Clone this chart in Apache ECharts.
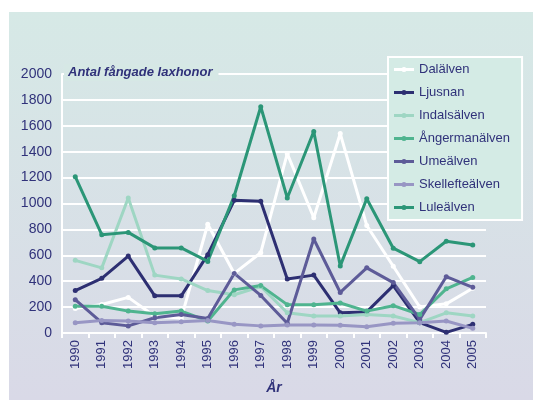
<!doctype html>
<html>
 <head>
  <meta charset="UTF-8">
  <script src="https://cdn.jsdelivr.net/npm/echarts@6/dist/echarts.min.js"></script>
  <title>Antal fångade laxhonor</title>
  <style>
   body { margin: 0; background: #fff; }
   #chart { width: 533px; height: 400px; }
  </style>
 </head>
 <body>
  <div id="chart"></div>
  <script type="text/javascript">
    var years = ['1990','1991','1992','1993','1994','1995','1996','1997','1998','1999','2000','2001','2002','2003','2004','2005'];
    var dalalven       = [190, 220, 275, 130, 115, 840, 460, 620, 1385, 890, 1540, 830, 515, 200, 225, 345];
    var ljusnan        = [328, 422, 594, 287, 287, 605, 1025, 1017, 417, 447, 156, 163, 366, 80, 5, 67];
    var indalsalven    = [561, 503, 1043, 447, 417, 328, 295, 359, 156, 131, 131, 143, 131, 80, 156, 131];
    var angermanalven  = [207, 207, 169, 148, 169, 93, 333, 366, 219, 219, 232, 169, 211, 143, 341, 429];
    var umealven       = [257, 80, 55, 118, 143, 112, 460, 290, 75, 726, 313, 503, 389, 105, 435, 353];
    var skelleftealven = [80, 97, 93, 80, 87, 97, 67, 55, 62, 62, 60, 49, 75, 80, 93, 36];
    var lulealven      = [1207, 759, 777, 657, 657, 553, 1060, 1747, 1043, 1556, 518, 1037, 655, 551, 708, 680];

    var textColor = '#30327a';
    var font = 'Liberation Sans, Arial, sans-serif';

    function line(name, data, color) {
      return {
        name: name,
        type: 'line',
        data: data,
        symbol: 'circle',
        symbolSize: 5,
        showSymbol: true,
        lineStyle: { color: color, width: 3 },
        itemStyle: { color: color },
        emphasis: { disabled: true }
      };
    }

    var myChart = echarts.init(document.getElementById('chart'));
    myChart.setOption({
      animation: false,
      textStyle: { fontFamily: font },
      graphic: [{
        type: 'rect',
        z: -10,
        silent: true,
        shape: { x: 9, y: 12, width: 524, height: 388 },
        style: {
          fill: {
            type: 'linear', x: 0, y: 0, x2: 0, y2: 1,
            colorStops: [{ offset: 0, color: '#d6e9e6' }, { offset: 1, color: '#d9d9e7' }]
          }
        }
      }],
      title: {
        text: 'Antal fångade laxhonor',
        left: 64,
        top: 64,
        padding: [2, 6, 2, 4],
        backgroundColor: '#d6e8e5',
        textStyle: { color: textColor, fontSize: 13, fontWeight: 'bold', fontStyle: 'italic', fontFamily: font }
      },
      legend: {
        orient: 'vertical',
        left: 388,
        top: 57,
        width: 135,
        padding: [6, 12, 6, 6],
        itemGap: 10,
        itemWidth: 20,
        itemHeight: 12,
        itemStyle: { borderWidth: 0 },
        icon: 'path://M0,4.5 L20,4.5 L20,7.5 L0,7.5 Z M7.5,6 A2.5,2.5 0 1 1 12.5,6 A2.5,2.5 0 1 1 7.5,6 Z',
        backgroundColor: '#d4ebe5',
        borderColor: '#ffffff',
        borderWidth: 2,
        borderRadius: 0,
        textStyle: { color: textColor, fontSize: 13, fontFamily: font },
        data: ['Dalälven', 'Ljusnan', 'Indalsälven', 'Ångermanälven', 'Umeälven', 'Skellefteälven', 'Luleälven']
      },
      grid: { left: 62, right: 47, top: 74, bottom: 65 },
      xAxis: {
        type: 'category',
        data: years,
        boundaryGap: true,
        name: 'År',
        nameLocation: 'middle',
        nameGap: 48,
        nameTextStyle: { color: textColor, fontSize: 14, fontWeight: 'bold', fontStyle: 'italic', fontFamily: font },
        axisLine: { lineStyle: { color: '#ffffff', width: 2 } },
        axisTick: { show: true, alignWithLabel: false, length: 5, lineStyle: { color: '#ffffff', width: 2 } },
        axisLabel: { rotate: 90, color: textColor, fontSize: 13, margin: 7, interval: 0, fontFamily: font },
        splitLine: { show: false }
      },
      yAxis: {
        type: 'value',
        min: 0,
        max: 2000,
        interval: 200,
        axisLine: { show: true, lineStyle: { color: '#ffffff', width: 2 } },
        axisTick: { show: false },
        axisLabel: { color: textColor, fontSize: 14, margin: 10, fontFamily: font, formatter: function (v) { return String(v); } },
        splitLine: { lineStyle: { color: '#ffffff', width: 2 } }
      },
      series: [
        line('Dalälven', dalalven, '#ffffff'),
        line('Ljusnan', ljusnan, '#2d2f72'),
        line('Indalsälven', indalsalven, '#9ed6c3'),
        line('Ångermanälven', angermanalven, '#4fb48f'),
        line('Umeälven', umealven, '#5d5b98'),
        line('Skellefteälven', skelleftealven, '#9896c4'),
        line('Luleälven', lulealven, '#2b9677')
      ]
    });
  </script>
 </body>
</html>
